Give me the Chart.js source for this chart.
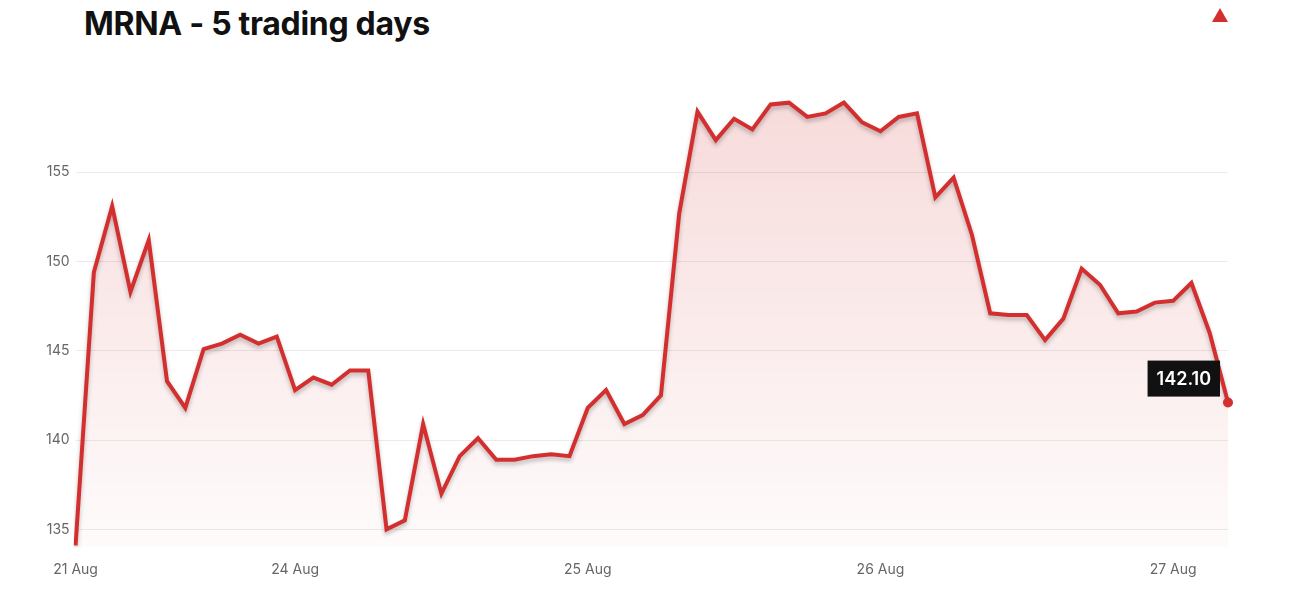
<!DOCTYPE html>
<html><head><meta charset="utf-8">
<script src="https://cdn.jsdelivr.net/npm/chart.js@4"></script>
<style>
html,body{margin:0;padding:0;background:#fff;}
#wrap{position:relative;width:1300px;height:600px;}
h1{position:absolute;left:84px;top:4px;margin:0;font:bold 32px Inter, "Liberation Sans", sans-serif;color:#111;letter-spacing:-0.3px}
#tri{position:absolute;left:1212px;top:8px;width:0;height:0;border-left:8px solid transparent;border-right:8px solid transparent;border-bottom:14px solid #d32f2f;}
canvas{position:absolute;left:0;top:0;}
</style></head>
<body><div id="wrap"><h1>MRNA - 5 trading days</h1><div id="tri"></div><canvas id="c" width="1300" height="600"></canvas></div>
<script>
const prices=[134.1,149.4,153.1,148.3,151.2,143.3,141.8,145.1,145.4,145.9,145.4,145.8,142.8,143.5,143.1,143.9,143.9,135.0,135.5,140.9,137.0,139.1,140.1,138.9,138.9,139.1,139.2,139.1,141.8,142.8,140.9,141.4,142.5,152.7,158.4,156.8,158.0,157.4,158.8,158.9,158.1,158.3,158.9,157.8,157.3,158.1,158.3,153.6,154.7,151.5,147.1,147.0,147.0,145.6,146.8,149.6,148.7,147.1,147.2,147.7,147.8,148.8,146.0,142.1];
const dayLabels={0:'21 Aug',12:'24 Aug',28:'25 Aug',44:'26 Aug',60:'27 Aug'};
const labels=prices.map((p,i)=>dayLabels[i]||'');
const lastLabel='142.10';
const RED='#d32f2f';
const ctx=document.getElementById('c').getContext('2d');
const lastBox={id:'lastBox',afterDatasetsDraw(ch){
  const m=ch.getDatasetMeta(0);const pt=m.data[m.data.length-1];const c=ch.ctx;
  c.save();c.fillStyle=RED;c.beginPath();c.arc(pt.x,pt.y,5,0,Math.PI*2);c.fill();
  c.font='600 18px Inter, "Liberation Sans", sans-serif';
  const w=c.measureText(lastLabel).width+18,h=36;
  const bx=pt.x-8-w,by=pt.y-42;
  c.fillStyle='#111';c.fillRect(bx,by,w,h);
  c.fillStyle='#fff';c.textAlign='center';c.textBaseline='middle';c.fillText(lastLabel,bx+w/2,by+h/2+1);
  c.restore();}};
const shadow={id:'shadow',beforeDatasetDraw(ch){const c=ch.ctx;c.save();c.shadowColor='rgba(0,0,0,0.25)';c.shadowBlur=4;c.shadowOffsetY=3;},afterDatasetDraw(ch){ch.ctx.restore();}};
new Chart(ctx,{type:'line',data:{labels,datasets:[{data:prices,borderColor:RED,borderWidth:4,pointRadius:0,tension:0,fill:'start',
 backgroundColor:(c)=>{const a=c.chart.chartArea;if(!a)return 'rgba(211,47,47,0.1)';const g=c.chart.ctx.createLinearGradient(0,a.top,0,a.bottom);g.addColorStop(0,'rgba(211,47,47,0.18)');g.addColorStop(1,'rgba(211,47,47,0.02)');return g;}}]},
 options:{responsive:false,animation:false,layout:{padding:{left:40,right:72,top:83,bottom:16}},
 plugins:{legend:{display:false},tooltip:{enabled:false}},
 scales:{x:{grid:{display:false},border:{display:false},ticks:{autoSkip:false,maxRotation:0,color:'#666',font:{size:14,family:'Inter, "Liberation Sans", sans-serif'},padding:6}},
  y:{min:134,max:160,afterBuildTicks(a){a.ticks=[135,140,145,150,155,160].map(v=>({value:v}));},
   border:{display:false},grid:{color:(c)=>c.tick&&c.tick.value<160?'rgba(0,0,0,0.08)':'rgba(0,0,0,0)',tickLength:0},
   ticks:{color:'#666',font:{size:14,family:'Inter, "Liberation Sans", sans-serif'},padding:6,callback:v=>v<160?v:''}}}},
 plugins:[shadow,lastBox]});
</script></body></html>
